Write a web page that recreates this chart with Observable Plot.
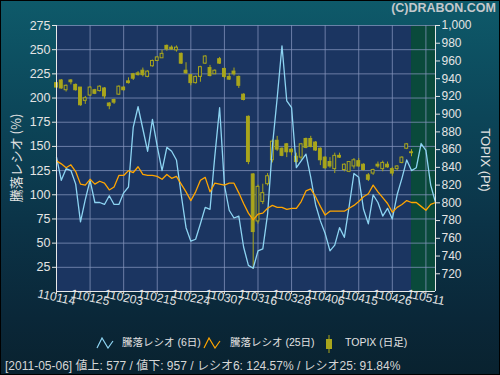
<!DOCTYPE html>
<html>
<head>
<meta charset="utf-8">
<script src="https://cdn.jsdelivr.net/npm/d3@7"></script>
<script src="https://cdn.jsdelivr.net/npm/@observablehq/plot@0.6"></script>
<style>
  html, body { margin: 0; padding: 0; background: #0a2433; }
  #wrap { position: relative; width: 500px; height: 375px; overflow: hidden;
    background: linear-gradient(to bottom, #0e5a6a 0%, #0c4659 30%, #0b3347 60%, #0a2738 85%, #09222f 100%);
    font-family: "Liberation Sans", "Noto Sans CJK JP", sans-serif; color: #e2e2e2; }
  #chart { position: absolute; left: 0; top: 0; }
  .ov { position: absolute; white-space: nowrap; line-height: 1; }
  #border { position: absolute; left: 0; top: 0; width: 500px; height: 375px; box-sizing: border-box; border: 1px solid #000; pointer-events: none; }
</style>
</head>
<body>
<div id="wrap">
  <div id="chart"></div>
  <div class="ov" id="copy" style="right:4px; top:2px; font-weight:bold; font-size:12.5px; color:#c4c8cc;">(C)DRABON.COM</div>
  <div class="ov" style="left:15px; top:158px; transform:translate(-50%,-50%) rotate(-90deg); font-size:13px; font-family:'Noto Sans CJK JP','Liberation Sans',sans-serif;">騰落レシオ (%)</div>
  <div class="ov" style="left:485px; top:160px; transform:translate(-50%,-50%) rotate(90deg); font-size:13px;">TOPIX (Pt)</div>
  <svg class="ov" style="left:96px; top:337px;" width="18" height="12"><polyline points="1,11 6,1 12,11 17,4" fill="none" stroke="#8dd4f2" stroke-width="1.2"/></svg>
  <div class="ov" id="lg1" style="left:122px; top:337px; font-size:10.5px;"></div>
  <svg class="ov" style="left:203px; top:337px;" width="18" height="12"><polyline points="1,11 6,1 12,11 17,4" fill="none" stroke="#ffa500" stroke-width="1.2"/></svg>
  <div class="ov" id="lg2" style="left:230px; top:337px; font-size:10.5px;"></div>
  <svg class="ov" style="left:324px; top:335px;" width="10" height="18"><line x1="5" y1="0" x2="5" y2="18" stroke="#a9a61c"/><rect x="2.5" y="4.5" width="5" height="9" fill="#a9a61c" stroke="#a9a61c"/></svg>
  <div class="ov" id="lg3" style="left:345px; top:337px; font-size:10.5px;"></div>
  <div class="ov" id="status" style="left:5px; top:360px; font-size:12px; color:#d6d6d6;"></div>
  <div id="border"></div>
</div>
<script>
// ---- data ----
const xTickIndex = [0, 7, 14, 21, 28, 35, 42, 49, 56, 63, 70, 77];
const xTickLabels = ["110114","110125","110203","110215","110224","110307","110316","110328","110406","110415","110426","110511"];
const leftTicks = [25, 50, 75, 100, 125, 150, 175, 200, 225, 250, 275];
const rightTicks = [720, 740, 760, 780, 800, 820, 840, 860, 880, 900, 920, 940, 960, 980, 1000];

const ratio6 = [139,115,127,125,111,72,95,115,92,92,90,99,90,90,102,108,170,191,168,145,
  178,150,125,149,145,136,100,66,52,54,70,87,85,140,190,110,84,76,78,46,
  27,24,42,44,80,150,200,254,197,190,128,135,142,118,90,73,60,42,48,66,
  56,88,122,118,85,70,100,92,78,86,75,100,117,136,125,128,153,146,110,92];
const ratio25 = [135,132,128,131,124,111,110,116,111,114,112,105,108,120,120,125,123,129,121,120,
  120,119,116,121,117,119,111,103,94,103,115,118,103,112,111,110,112,112,102,91,
  81,74,80,81,86,89,87,87,85,86,86,93,104,106,98,88,79,83,83,83,
  83,86,89,93,98,101,110,103,97,91,82,87,90,94,92,92,88,84,90,92];

const topixOpen = [935,938,927,938,933,930,915,921,927,926,929,912,916,922,930,937,945,946,949,942,
  954,960,963,977,975,972,968,949,944,935,942,957,952,945,962,951,942,948,942,922,
  897,832,779,801,821,848,870,861,866,860,852,851,872,872,868,861,851,846,838,853,
  837,835,841,847,843,831,833,843,838,843,838,838,845,861,857];
const topixHigh = [939,939,933,939,934,930,920,931,928,932,930,913,917,932,931,941,946,948,952,949,
  961,965,972,978,977,977,969,958,944,943,954,966,955,950,964,952,946,952,943,923,
  898,833,820,821,833,871,875,862,867,861,856,867,873,875,869,862,852,851,856,856,
  844,846,850,850,844,833,838,846,847,846,840,842,852,867,860];
const topixLow = [929,928,925,933,926,909,911,920,922,925,917,905,911,921,926,934,938,943,942,941,
  953,960,963,971,972,970,956,945,932,934,936,956,942,945,956,940,938,943,929,915,
  843,725,776,798,819,845,858,852,851,853,844,848,861,862,858,842,838,839,833,850,
  835,834,838,840,836,824,831,839,835,839,830,836,844,860,852];
const topixClose = [930,929,932,936,927,910,918,930,923,931,920,909,913,931,927,935,940,944,944,948,
  960,964,968,973,973,975,957,946,935,942,953,965,943,949,957,942,939,945,932,916,
  846,767,818,811,830,869,860,853,857,857,846,866,862,863,859,848,839,841,853,851,
  843,846,848,841,837,826,837,841,845,840,833,841,851,866,856];

const highlightStart = 74;   // green shaded period (index)
const xEnd = 79;

const legendLabels = ["騰落レシオ (6日)", "騰落レシオ (25日)", "TOPIX (日足)"];
const statusText = "[2011-05-06]  値上: 577 / 値下: 957 / レシオ6: 124.57% / レシオ25: 91.84%";

// ---- scales helpers ----
const leftDomain = [0, 275];
const rightDomain = [700, 1000];
const toLeft = p => (p - rightDomain[0]) * (leftDomain[1] - leftDomain[0]) / (rightDomain[1] - rightDomain[0]) + leftDomain[0];
const toPrice = v => (v - leftDomain[0]) * (rightDomain[1] - rightDomain[0]) / (leftDomain[1] - leftDomain[0]) + rightDomain[0];

const plotBg = "#1b3561";
const candleColor = "#a9a61c";
const labelMap = new Map(xTickIndex.map((d, i) => [d, xTickLabels[i]]));

const candles = topixOpen.map((o, i) => ({i, o, h: topixHigh[i], l: topixLow[i], c: topixClose[i]}));

const chart = Plot.plot({
  width: 500,
  height: 375,
  marginTop: 25,
  marginLeft: 56,
  marginRight: 65,
  marginBottom: 84,
  style: {background: "transparent", color: "#e4e4e4", fontFamily: "Liberation Sans, sans-serif", fontSize: "12px"},
  x: {domain: [0, xEnd]},
  y: {domain: leftDomain},
  marks: [
    Plot.frame({fill: plotBg, stroke: null}),
    Plot.rect([highlightStart], {x1: d => d, x2: xEnd, y1: leftDomain[0], y2: leftDomain[1], fill: "#0a4a3b"}),
    Plot.gridX(xTickIndex, {stroke: "#8595bd", strokeOpacity: 0.75}),
    Plot.gridY(leftTicks, {stroke: "#8595bd", strokeOpacity: 0.75}),
    Plot.axisY(leftTicks, {anchor: "left", tickSize: 4, tickPadding: 2, label: null, fontSize: 12.5, stroke: "#e4e4e4"}),
    Plot.axisY(rightTicks.map(toLeft), {anchor: "right", tickSize: 4, tickPadding: 2, label: null, fontSize: 12,
      tickFormat: v => d3.format(",")(Math.round(toPrice(v))), stroke: "#e4e4e4"}),
    Plot.axisX(xTickIndex, {anchor: "bottom", tickSize: 3, tickPadding: 3, tickRotate: 12, textAnchor: "middle", label: null, fontSize: 12,
      tickFormat: d => labelMap.get(d), stroke: "#e4e4e4"}),
    Plot.ruleX(candles, {x: "i", y1: d => toLeft(d.l), y2: d => toLeft(d.h), stroke: candleColor, strokeWidth: 1}),
    Plot.rect(candles, {
      x1: d => d.i - 0.3, x2: d => d.i + 0.3,
      y1: d => toLeft(Math.min(d.o, d.c)), y2: d => toLeft(Math.max(d.o, d.c)),
      fill: d => d.c < d.o ? candleColor : (d.i >= highlightStart ? "#0a4a3b" : plotBg),
      stroke: candleColor, strokeWidth: 1
    }),
    Plot.line(ratio6, {x: (d, i) => i, y: d => d, stroke: "#8dd4f2", strokeWidth: 1.3}),
    Plot.line(ratio25, {x: (d, i) => i, y: d => d, stroke: "#ffa500", strokeWidth: 1.3}),
    Plot.ruleX([0, xEnd], {stroke: "#e8e8e8"}),
    Plot.ruleY([leftDomain[0]], {stroke: "#e8e8e8"})
  ]
});
document.getElementById("chart").appendChild(chart);
document.getElementById("lg1").textContent = legendLabels[0];
document.getElementById("lg2").textContent = legendLabels[1];
document.getElementById("lg3").textContent = legendLabels[2];
document.getElementById("status").textContent = statusText;
</script>
</body>
</html>
